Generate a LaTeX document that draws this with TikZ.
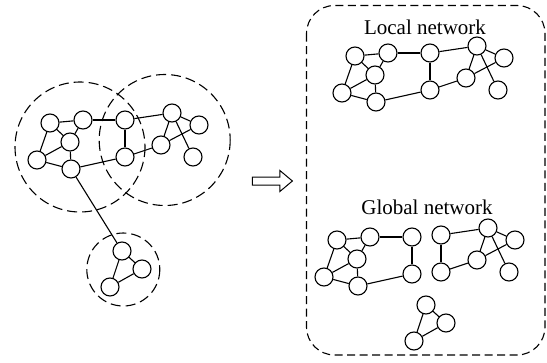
\documentclass[tikz,border=0pt]{standalone}
\usepackage{fontspec}
\setmainfont{Liberation Serif}
\usetikzlibrary{shapes.arrows}

% node sets of the base network: name/x/y
\def\setA{a1/50/123, a2/83/120, a3/70/142, a4/37/160, a5/71/169}
\def\setB{b1/125/120, b2/125/157}
\def\setC{c1/172/113, c2/199/125, c3/161/145, c4/193/157}
\def\setD{d1/122/251, d2/142/269, d3/110/287}
% links inside and between the sets
\def\linksA{a1/a2, a1/a3, a1/a4, a2/a3, a3/a4, a3/a5, a4/a5}
\def\linksAB{a2/b1, a5/b2}
\def\linksB{b1/b2}
\def\linksBC{b1/c1, b2/c3}
\def\linksC{c1/c2, c1/c3, c2/c3, c1/c4}
\def\linksD{d1/d2, d1/d3, d2/d3}

\newcommand\placenodes[3]{% prefix, shift, node set
  \begin{scope}[shift={#2}]
    \foreach \n/\x/\y in #3 {\node[vertex] (#1\n) at (\x,\y) {};}
  \end{scope}}
\newcommand\joinnodes[2]{% prefix, link set
  \foreach \u/\v in #2 {\draw[link] (#1\u) -- (#1\v);}}

\begin{document}
\begin{tikzpicture}[x=1pt,y=-1pt,
  vertex/.style={circle,draw,fill=white,minimum size=18pt,inner sep=0pt,line width=1.1pt},
  link/.style={line width=1.1pt},
  region/.style={draw,line width=1.1pt,dash pattern=on 8pt off 4.5pt},
  hood/.style={region,dash pattern=on 10pt off 5pt},
  title/.style={font=\fontsize{21}{24}\selectfont,inner sep=0pt},
  bigarrow/.style={single arrow,draw,line width=1pt,inner sep=0pt,inner ysep=3.5pt,
    minimum width=20pt,minimum height=40pt,single arrow head extend=6.5pt,
    single arrow tip angle=80}]
  \useasboundingbox (0,0) rectangle (547,362);

  % neighbourhoods around the original network
  \draw[hood] (80,147) circle[radius=65];
  \draw[hood] (164.7,140) circle[radius=65.5];
  \draw[hood] (123.3,269.5) circle[radius=36.5];

  % original network
  \placenodes{o}{(0,0)}{\setA}
  \placenodes{o}{(0,0)}{\setB}
  \placenodes{o}{(0,0)}{\setC}
  \placenodes{o}{(0,0)}{\setD}
  \joinnodes{o}{\linksA}
  \joinnodes{o}{\linksAB}
  \joinnodes{o}{\linksB}
  \joinnodes{o}{\linksBC}
  \joinnodes{o}{\linksC}
  \joinnodes{o}{\linksD}
  \draw[link] (oa5) -- (od1);

  \node[bigarrow] (split) at (270,181) {};

  % split result
  \draw[region,rounded corners=28pt] (306.5,5.5) rectangle (545,355);
  \node[title] (localtitle) at (425,27) {Local network};
  \node[title] (globaltitle) at (427,207) {Global network};

  % local part
  \placenodes{l}{(305,-67)}{\setA}
  \placenodes{l}{(305,-67)}{\setB}
  \placenodes{l}{(305,-67)}{\setC}
  \joinnodes{l}{\linksA}
  \joinnodes{l}{\linksAB}
  \joinnodes{l}{\linksB}
  \joinnodes{l}{\linksBC}
  \joinnodes{l}{\linksC}

  % global part, three pieces
  \placenodes{g}{(287,117)}{\setA}
  \placenodes{g}{(287,117)}{\setB}
  \joinnodes{g}{\linksA}
  \joinnodes{g}{\linksAB}
  \joinnodes{g}{\linksB}

  \placenodes{h}{(316,115)}{\setB}
  \placenodes{h}{(316,115)}{\setC}
  \joinnodes{h}{\linksB}
  \joinnodes{h}{\linksBC}
  \joinnodes{h}{\linksC}

  \placenodes{t}{(304,54)}{\setD}
  \joinnodes{t}{\linksD}
\end{tikzpicture}
\end{document}
